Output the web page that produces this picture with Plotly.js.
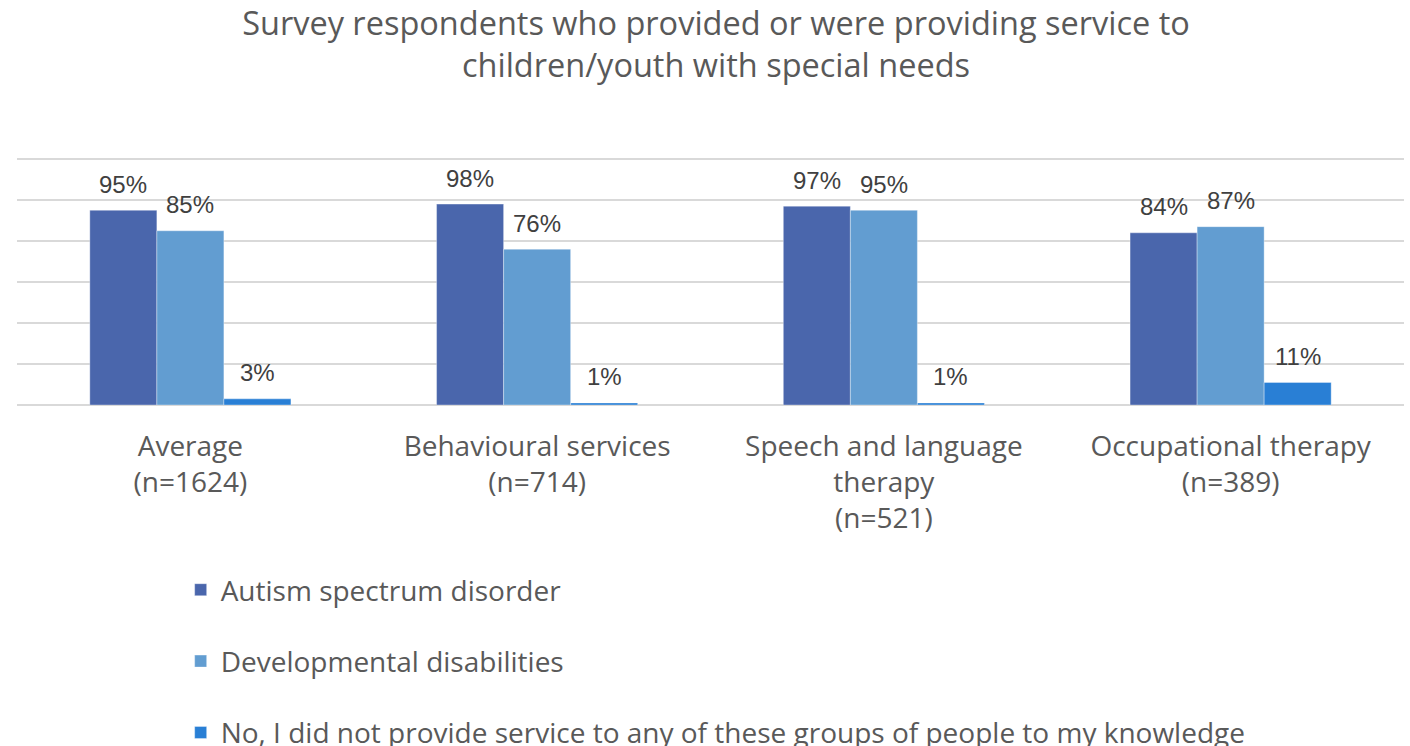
<!DOCTYPE html>
<html>
<head>
<meta charset="utf-8">
<script src="https://cdn.plot.ly/plotly-3.0.1.min.js"></script>
<style>html,body{margin:0;padding:0;background:#fff;}#chart{width:1410px;height:746px;}</style>
</head>
<body>
<div id="chart"></div>
<script>
const categories = ["Average<br>(n=1624)", "Behavioural services<br>(n=714)", "Speech and language<br>therapy<br>(n=521)", "Occupational therapy<br>(n=389)"];
const seriesNames = ["Autism spectrum disorder", "Developmental disabilities", "No, I did not provide service to any of these groups of people to my knowledge"];
const autism = [95, 98, 97, 84];
const developmental = [85, 76, 95, 87];
const noService = [3, 1, 1, 11];
const seriesValues = [autism, developmental, noService];
const colors = ["#4A66AC", "#629DD1", "#297FD5"];

const W = 1410, H = 746;
const margin = {l: 17, r: 6, t: 158, b: 341, pad: 0};
const bargap = 0.42;
const plotW = W - margin.l - margin.r;
const catW = plotW / categories.length;
const barW = catW * (1 - bargap) / seriesValues.length;
const FONT = "Open Sans, Noto Sans, sans-serif";

const traces = seriesValues.map((vals, i) => ({
  type: 'bar',
  name: seriesNames[i],
  x: categories,
  y: vals,
  marker: {color: colors[i], line: {color: 'rgba(255,255,255,0.35)', width: 1}},
  legendgroup: 'g' + i,
  hoverinfo: 'none'
}));

const annotations = [];
seriesValues.forEach((vals, i) => {
  vals.forEach((v, j) => {
    annotations.push({
      x: categories[j], y: v, xref: 'x', yref: 'y',
      text: v + '%', showarrow: false,
      xanchor: 'center', yanchor: 'middle',
      xshift: (i - (seriesValues.length - 1) / 2) * barW,
      yshift: 26,
      font: {family: "Liberation Sans, Arial, sans-serif", size: 24, color: '#404040'}
    });
  });
});

const layout = {
  width: W, height: H,
  margin: margin,
  paper_bgcolor: '#fff', plot_bgcolor: '#fff',
  title: {
    text: 'Survey respondents who provided or were providing service to<br>children/youth with special needs',
    font: {family: FONT, size: 32.5, color: '#595959'},
    x: 716 / W, xanchor: 'center', y: 1 - 35 / H, yanchor: 'top'
  },
  barmode: 'group',
  bargap: bargap,
  bargroupgap: 0,
  xaxis: {
    type: 'category',
    tickfont: {family: FONT, size: 28, color: '#595959'},
    ticks: 'outside', ticklen: 16, tickcolor: 'rgba(0,0,0,0)',
    showgrid: false, showline: false, zeroline: false,
    fixedrange: true
  },
  yaxis: {
    range: [0, 120.5], dtick: 20, tick0: 0,
    showticklabels: false,
    showgrid: true, gridcolor: '#D9D9D9', gridwidth: 1.5,
    zeroline: true, zerolinecolor: '#D9D9D9', zerolinewidth: 1.5,
    showline: false, fixedrange: true
  },
  showlegend: true,
  legend: {
    orientation: 'v',
    traceorder: 'grouped',
    tracegroupgap: 32,
    x: 0.118, xanchor: 'left',
    y: 1 - 565 / H, yref: 'container', yanchor: 'top',
    font: {family: FONT, size: 28, color: '#595959'},
    bgcolor: 'rgba(0,0,0,0)'
  },
  annotations: annotations
};

Plotly.newPlot('chart', traces, layout, {displayModeBar: false, staticPlot: true});
</script>
</body>
</html>
